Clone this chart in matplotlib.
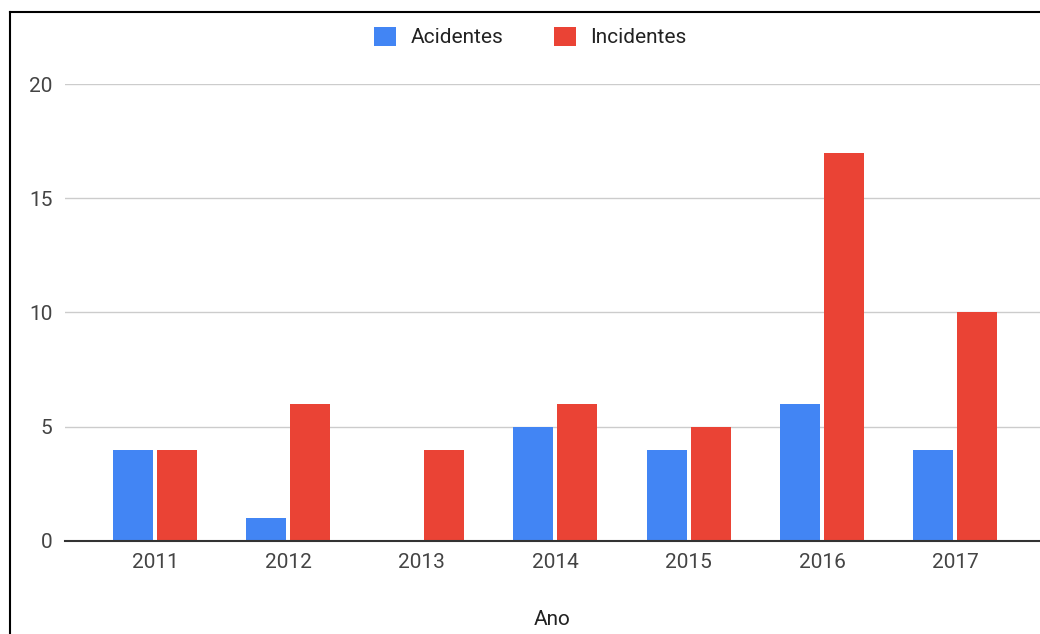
import numpy as np
import matplotlib
matplotlib.use("Agg")
from matplotlib import pyplot as plt
from matplotlib.lines import Line2D

anos = ['2011', '2012', '2013', '2014', '2015', '2016', '2017']
acidentes = [4, 1, 0, 5, 4, 6, 4]
incidentes = [4, 6, 4, 6, 5, 17, 10]

plt.rcParams['font.family'] = ['Roboto', 'DejaVu Sans']

azul = '#4285F4'
vermelho = '#EA4335'
fs = 15

fig = plt.figure(figsize=(10.4, 6.34), dpi=100)
ax = fig.add_axes([0.0625, 0.1467, 0.9375, 0.7208])

x = np.arange(len(anos))
w = 0.3
ax.bar(x - 0.165, acidentes, w, color=azul, label='Acidentes', zorder=3)
ax.bar(x + 0.165, incidentes, w, color=vermelho, label='Incidentes', zorder=3)

ax.set_xlim(-0.675, 6.634)
ax.set_ylim(0, 20)
ax.set_yticks([0, 5, 10, 15, 20])
ax.set_xticks(x)
ax.set_xticklabels(anos)
ax.tick_params(axis='both', length=0, labelsize=fs, colors='#444444')
ax.tick_params(axis='y', pad=9)
ax.tick_params(axis='x', pad=9)
ax.grid(axis='y', color='#cccccc', linewidth=1, zorder=0)
ax.set_axisbelow(True)
for s in ['top', 'right', 'left']:
    ax.spines[s].set_visible(False)
ax.spines['bottom'].set_color('#333333')
ax.spines['bottom'].set_linewidth(1.5)
ax.spines['bottom'].set_zorder(4)

ax.set_xlabel('Ano', fontsize=fs, color='#222222', labelpad=27)

fig.legend(loc='center', bbox_to_anchor=(0.51, 0.9416), ncol=2, frameon=False,
           fontsize=fs, handlelength=1.05, handleheight=1.05, columnspacing=2.4,
           handletextpad=0.7, labelcolor='#222222')

# moldura preta (topo e esquerda)
fig.add_artist(Line2D([10 / 1040, 10 / 1040], [0, 1 - 12 / 634], color='black', linewidth=1.5))
fig.add_artist(Line2D([10 / 1040, 1], [1 - 12 / 634, 1 - 12 / 634], color='black', linewidth=1.5))

plt.savefig('out.png', dpi=100)
